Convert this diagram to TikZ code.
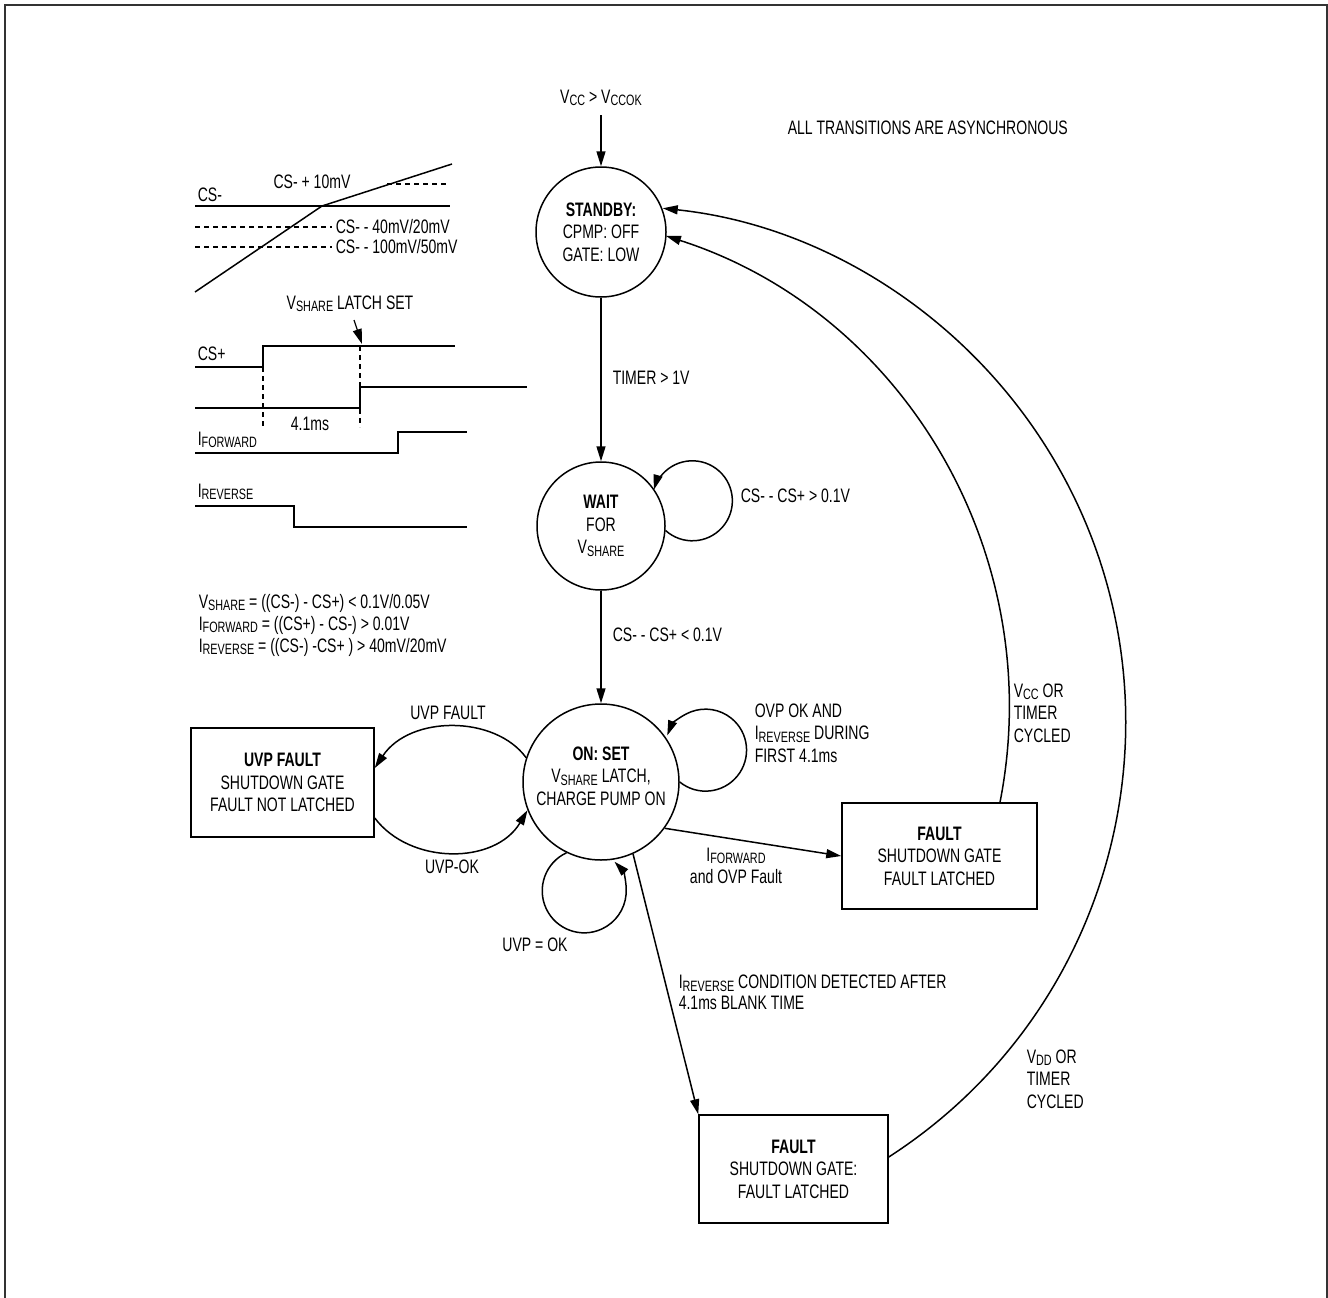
\documentclass[tikz,border=0pt]{standalone}
\usepackage{fontspec}
\setmainfont{Liberation Sans}[FakeStretch=0.72]
\usetikzlibrary{arrows.meta,calc}
\newcommand\sbs[1]{\raisebox{-2.5pt}{\fontsize{15}{15}\selectfont #1}}
\begin{document}
\begin{tikzpicture}[x=1pt,y=1pt, font=\fontsize{19.5}{22.5}\selectfont, line width=1.5pt,
 arr/.style={-{Triangle[length=15pt,width=9pt]}},
 st/.style={circle,draw,inner sep=0pt,align=center},
 bx/.style={rectangle,draw,inner sep=0pt,align=center},
 lbl/.style={inner sep=0pt,align=left},
 dsh/.style={dash pattern=on 5pt off 4pt, line width=1.2pt}]
\useasboundingbox (0,0) rectangle (1328,-1298);
\draw[line width=2.5pt, black!80] (5,-1300) -- (5,-5) -- (1327,-5) -- (1327,-1300);

% states
\node[st,minimum size=130pt] (sb) at (601,-232) {\textbf{STANDBY:}\\CPMP: OFF\\GATE: LOW};
\node[st,minimum size=128pt] (wt) at (601,-526) {\textbf{WAIT}\\FOR\\V\sbs{SHARE}};
\node[st,minimum size=156pt] (on) at (601,-782) {};
\node[lbl,align=center] (ontxt) at (601,-776) {\textbf{ON: SET}\\V\sbs{SHARE} LATCH,\\CHARGE PUMP ON};
\node[bx,minimum width=183pt,minimum height=109pt] (uvp) at (282.5,-782.5) {\textbf{UVP FAULT}\\SHUTDOWN GATE\\FAULT NOT LATCHED};
\node[bx,minimum width=195pt,minimum height=106pt] (f1) at (939.5,-856) {\textbf{FAULT}\\SHUTDOWN GATE\\FAULT LATCHED};
\node[bx,minimum width=189pt,minimum height=108pt] (f2) at (793.5,-1169) {\textbf{FAULT}\\SHUTDOWN GATE:\\FAULT LATCHED};

% connectors
\coordinate (vccin) at (601,-115);
\draw[arr] (vccin) -- (sb.north);
\node[lbl] (lvcc) at (601,-98) {V\sbs{CC} > V\sbs{CCOK}};
\node[lbl,anchor=west] (lasync) at (787,-128) {ALL TRANSITIONS ARE ASYNCHRONOUS};
\draw[arr] (sb.south) -- (wt.north);
\node[lbl,anchor=west] (ltimer) at (612,-378) {TIMER > 1V};
\draw[arr] (wt.south) -- (on.north);
\node[lbl,anchor=west] (lcsl) at (612,-635) {CS- - CS+ < 0.1V};
\draw[arr] (wt.-4) arc[start angle=-132,end angle=164,radius=40pt];
\node[lbl,anchor=west] (lcsg) at (740,-496) {CS- - CS+ > 0.1V};
\draw[arr] (on.east) arc[start angle=-129,end angle=159,radius=41pt];
\node[lbl,anchor=west] (lovp) at (754,-733) {OVP OK AND\\I\sbs{REVERSE} DURING\\FIRST 4.1ms};
\draw[arr] (on.244) arc[start angle=115,end angle=404,radius=42pt];
\node[lbl] (luvpok2) at (535,-945) {UVP = OK};
\draw[arr] (on.162) .. controls (495,-715) and (410,-715) .. ([yshift=14.5pt]uvp.east);
\node[lbl] (luvpf) at (448,-713) {UVP FAULT};
\draw[arr] ([yshift=-35.5pt]uvp.east) .. controls (410,-865) and (495,-865) .. (on.201);
\node[lbl] (luvpok) at (452,-867) {UVP-OK};
\draw[arr] (on.-36) -- (f1.west);
\node[lbl,align=center] (lfwd) at (736,-866) {I\sbs{FORWARD}\\and OVP Fault};
\draw[arr] (on.-66) -- (f2.north west);
\node[lbl,anchor=west,font=\fontsize{19.5}{21}\selectfont] (lrev) at (678,-992.5) {I\sbs{REVERSE} CONDITION DETECTED AFTER\\4.1ms BLANK TIME};
\draw[arr] ([yshift=12pt]f2.east) arc[start angle=-57.2,end angle=84,radius=517pt];
\draw[arr] ([xshift=60.5pt]f1.north) arc[start angle=-11.13,end angle=72.2,radius=494.6pt];
\node[lbl,anchor=west] (lvcc2) at (1013,-713) {V\sbs{CC} OR\\TIMER\\CYCLED};
\node[lbl,anchor=west] (lvdd) at (1026,-1079) {V\sbs{DD} OR\\TIMER\\CYCLED};

% waveforms
\node[lbl,anchor=west] (wcsm) at (197,-195) {CS-};
\draw (195,-206) -- (450,-206);
\draw (195,-292) -- (322,-206) -- (452,-164);
\draw[dsh] (387,-184) -- (448,-184);
\draw[dsh] (195,-227) -- (332,-227);
\draw[dsh] (195,-247) -- (332,-247);
\node[lbl] (w10) at (312,-182) {CS- + 10mV};
\node[lbl,anchor=west] (w40) at (335,-227) {CS- - 40mV/20mV};
\node[lbl,anchor=west] (w100) at (335,-247) {CS- - 100mV/50mV};
\node[lbl] (wlatch) at (350,-304) {V\sbs{SHARE} LATCH SET};
\draw[arr,line width=1.2pt] (354,-320) -- (362,-344);
\node[lbl,anchor=west] (wcsp) at (197,-354) {CS+};
\draw[dsh] (263,-367) -- (263,-427);
\draw[dsh] (360,-346) -- (360,-427);
\draw (195,-367) -- (263,-367) -- (263,-346) -- (455,-346);
\draw (195,-408) -- (360,-408) -- (360,-387) -- (527,-387);
\node[lbl] (w41) at (310,-424) {4.1ms};
\node[lbl,anchor=west] (wfwd) at (197,-440) {I\sbs{FORWARD}};
\draw (195,-453) -- (398,-453) -- (398,-432) -- (467,-432);
\node[lbl,anchor=west] (wrev) at (197,-492) {I\sbs{REVERSE}};
\draw (195,-506) -- (294,-506) -- (294,-527) -- (467,-527);
\node[lbl,anchor=west,font=\fontsize{19.5}{22}\selectfont] (formulas) at (198,-625) {V\sbs{SHARE} = ((CS-) - CS+) < 0.1V/0.05V\\I\sbs{FORWARD} = ((CS+) - CS-) > 0.01V\\I\sbs{REVERSE} = ((CS-) -CS+ ) > 40mV/20mV};
\end{tikzpicture}
\end{document}
